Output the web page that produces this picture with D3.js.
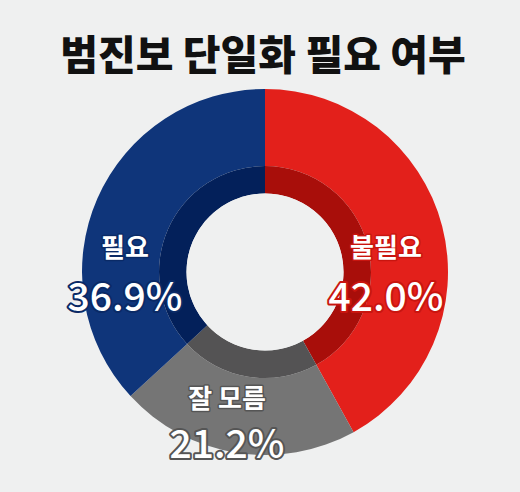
<!DOCTYPE html>
<html><head><meta charset="utf-8">
<script src="https://cdn.jsdelivr.net/npm/d3@7"></script>
<style>
html,body{margin:0;padding:0;background:#eff0f0;}
svg{display:block;}
text{font-family:"Noto Sans CJK KR","Noto Sans",sans-serif;}
</style></head>
<body>
<svg id="c" width="520" height="492"></svg>
<script>
const title = "범진보 단일화 필요 여부";
const categories = ["불필요", "잘 모름", "필요"];
const values = [42.0, 21.2, 36.9];
const valueLabels = ["42.0%", "21.2%", "36.9%"];
const colors = ["#e3201b", "#757575", "#0f357a"];
const innerColors = ["#a80e0a", "#545354", "#03205a"];
const strokeColors = ["#c9150f", "#555555", "#0a2a66"];

const svg = d3.select("#c");
const W = 520, H = 492;
svg.append("rect").attr("width", W).attr("height", H).attr("fill", "#eff0f0");

svg.append("text").attr("x", 263).attr("y", 70).attr("text-anchor", "middle")
  .attr("font-size", 41).attr("font-weight", 900).attr("fill", "#111")
  .text(title);

const cx = 265, cy = 272;
const rOuter = 183, rMid = 106, rHole = 78.5;
const data = categories.map((c, i) => ({cat: c, value: values[i], i}));
const pie = d3.pie().sort(null).value(d => d.value);
const arcs = pie(data);
const g = svg.append("g").attr("transform", `translate(${cx},${cy})`);
const outerArc = d3.arc().innerRadius(rMid).outerRadius(rOuter);
const innerArc = d3.arc().innerRadius(rHole).outerRadius(rMid);
g.selectAll("path.o").data(arcs).join("path").attr("class", "o")
  .attr("d", outerArc).attr("fill", d => colors[d.data.i]);
g.selectAll("path.i").data(arcs).join("path").attr("class", "i")
  .attr("d", innerArc).attr("fill", d => innerColors[d.data.i]);
g.append("circle").attr("r", rHole).attr("fill", "#eff0f0");

const labelPos = [
  {x: 386 - cx, y1: 257 - cy, y2: 311 - cy},
  {x: 227 - cx, y1: 408 - cy, y2: 458 - cy},
  {x: 125 - cx, y1: 257 - cy, y2: 311 - cy}
];
arcs.forEach(a => {
  const i = a.data.i, p = labelPos[i];
  g.append("text").attr("x", p.x).attr("y", p.y1).attr("text-anchor", "middle")
    .attr("font-size", 26).attr("font-weight", 700).attr("fill", "#fff")
    .attr("stroke", strokeColors[i]).attr("stroke-width", 3).attr("paint-order", "stroke")
    .attr("stroke-linejoin", "round")
    .text(a.data.cat);
  g.append("text").attr("x", p.x).attr("y", p.y2).attr("text-anchor", "middle")
    .attr("font-size", 39).attr("font-weight", 500).attr("fill", "#fff")
    .attr("stroke", strokeColors[i]).attr("stroke-width", 4).attr("paint-order", "stroke")
    .attr("stroke-linejoin", "round")
    .text(valueLabels[i]);
});
</script>
</body></html>
